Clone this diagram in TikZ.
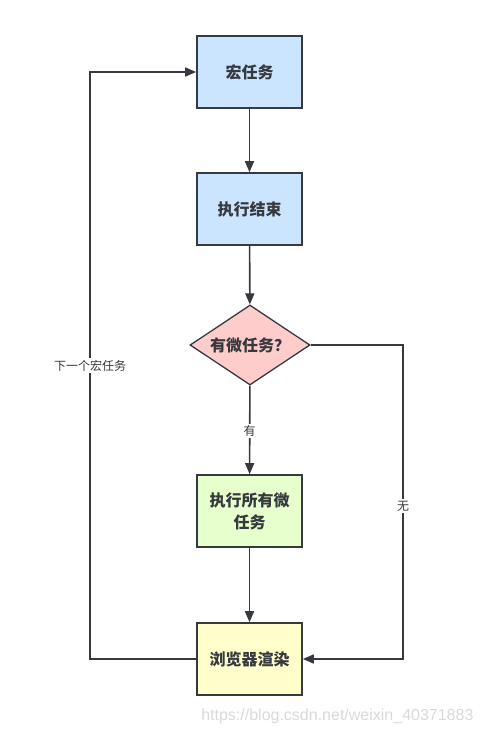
\documentclass[tikz,border=0pt]{standalone}
\usepackage{fontspec}
\newfontfamily\cjk{Noto Sans CJK SC}
\usetikzlibrary{shapes.geometric,arrows.meta}
\definecolor{bluef}{HTML}{CCE5FF}
\definecolor{pinkf}{HTML}{FFCCCC}
\definecolor{greenf}{HTML}{E6FFCC}
\definecolor{yellowf}{HTML}{FFFFCC}
\definecolor{edge}{HTML}{36393D}
\begin{document}
\begin{tikzpicture}[x=1pt,y=-1pt,
  box/.style={draw=edge,line width=1.6pt,minimum width=105pt,minimum height=72pt,inner sep=2pt,align=center,font=\cjk\bfseries\fontsize{16}{22}\selectfont,text=edge},
  dec/.style={draw=edge,line width=1.3pt,diamond,aspect=1.5,minimum width=120pt,minimum height=80pt,inner sep=0pt,fill=pinkf,font=\cjk\bfseries\fontsize{16}{22}\selectfont,text=edge},
  conn/.style={draw=edge,line width=1.6pt,-{Triangle[length=11pt,width=9pt]}},
  lbl/.style={fill=white,inner sep=1.5pt,font=\cjk\fontsize{12}{14}\selectfont,text=edge}]
\useasboundingbox (0,0) rectangle (484,734);
\node[box,fill=bluef] (a) at (249.5,72) {宏任务};
\node[box,fill=bluef] (b) at (249.5,209) {执行结束};
\node[dec] (c) at (250,345) {有微任务？};
\node[box,fill=greenf,text width=96pt] (d) at (249.5,511) {执行所有微\\任务};
\node[box,fill=yellowf] (e) at (249.5,659) {浏览器渲染};
\coordinate (lb) at (90,659);
\coordinate (lt) at (90,72);
\coordinate (rt) at (403,345);
\coordinate (rb) at (403,659);
\draw[conn] (a) -- (b);
\draw[conn] (b) -- (c);
\draw[conn] (c) -- node[lbl,pos=0.51] (l1) {有} (d);
\draw[conn] (d) -- (e);
\draw[conn] (e.west) -- (lb) -- node[lbl,pos=0.5] (l2) {下一个宏任务} (lt) -- (a.west);
\draw[conn] (c.east) -- (rt) -- node[lbl,pos=0.513] (l3) {无} (rb) -- (e.east);
\node[font=\fontsize{16}{18}\selectfont\fontspec{Liberation Sans},text=black!15,anchor=east] (wm) at (477,716) {https://blog.csdn.net/weixin\_40371883};
\end{tikzpicture}
\end{document}
